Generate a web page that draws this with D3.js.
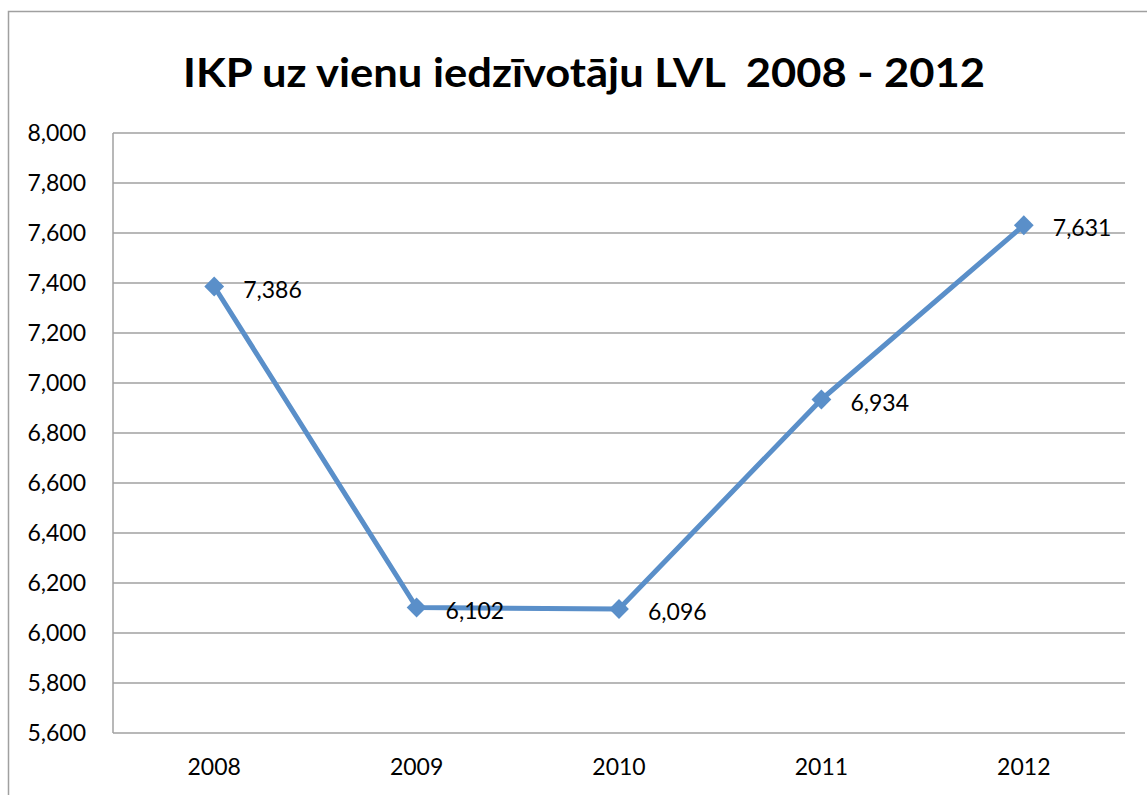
<!DOCTYPE html>
<html><head><meta charset="utf-8">
<script src="https://cdn.jsdelivr.net/npm/d3@7"></script>
<style>body{margin:0;background:#fff;}svg{display:block;}</style>
</head><body>
<script>
const title = "IKP uz vienu iedzīvotāju LVL  2008 - 2012";
const years = ["2008","2009","2010","2011","2012"];
const values = [7386, 6102, 6096, 6934, 7631];
const yTicks = [5600,5800,6000,6200,6400,6600,6800,7000,7200,7400,7600,7800,8000];

const W = 1147, H = 795;
const font = "Lato, 'Open Sans', sans-serif";
const svg = d3.select("body").append("svg").attr("width", W).attr("height", H);

// chart border
svg.append("rect").attr("x", 8.5).attr("y", 11.5).attr("width", 1160).attr("height", 800)
  .attr("fill", "#fff").attr("stroke", "#a0a0a0").attr("stroke-width", 1.5);

const m = {l: 113, r: 1125, t: 133, b: 733};
const x = d3.scaleBand().domain(years).range([m.l, m.r]);
const y = d3.scaleLinear().domain([5600, 8000]).range([m.b, m.t]);

svg.append("text").attr("x", 584).attr("y", 87).attr("text-anchor", "middle")
  .attr("font-family", font).attr("font-weight", "bold").attr("font-size", 40)
  .attr("textLength", 802).attr("lengthAdjust", "spacingAndGlyphs")
  .attr("fill", "#000").style("white-space", "pre").text(title);

// gridlines
svg.append("g").selectAll("line").data(yTicks).join("line")
  .attr("x1", m.l).attr("x2", m.r).attr("y1", d => y(d)).attr("y2", d => y(d))
  .attr("stroke", "#a0a0a0").attr("stroke-width", 1.5);
// left axis line
svg.append("line").attr("x1", m.l).attr("x2", m.l).attr("y1", m.t).attr("y2", m.b)
  .attr("stroke", "#a0a0a0").attr("stroke-width", 1.5);

const fmt = d3.format(",");
const yAxis = d3.axisLeft(y).tickValues(yTicks).tickFormat(fmt).tickSize(0).tickPadding(27);
const ga = svg.append("g").attr("transform", `translate(${m.l},0)`).call(yAxis);
ga.select(".domain").remove();
ga.selectAll("text").attr("font-family", font).attr("font-size", 23).attr("fill", "#000");

const xAxis = d3.axisBottom(x).tickSize(0).tickPadding(26);
const gx = svg.append("g").attr("transform", `translate(0,${m.b})`).call(xAxis);
gx.select(".domain").remove();
gx.selectAll("text").attr("font-family", font).attr("font-size", 23).attr("fill", "#000");

const data = years.map((yr, i) => ({yr, v: values[i]}));
const cx = d => x(d.yr) + x.bandwidth() / 2;
const color = "#5a8fc9";

svg.append("path").datum(data)
  .attr("d", d3.line().x(cx).y(d => y(d.v)))
  .attr("fill", "none").attr("stroke", color).attr("stroke-width", 5).attr("stroke-linejoin", "round");

svg.append("g").selectAll("path").data(data).join("path")
  .attr("d", d3.symbol(d3.symbolDiamond2, 250))
  .attr("transform", d => `translate(${cx(d)},${y(d.v)})`)
  .attr("fill", color);

svg.append("g").selectAll("text").data(data).join("text")
  .attr("x", d => cx(d) + 29).attr("y", d => y(d.v) + 11)
  .attr("font-family", font).attr("font-size", 23).attr("fill", "#000")
  .text(d => fmt(d.v));
</script>
</body></html>
